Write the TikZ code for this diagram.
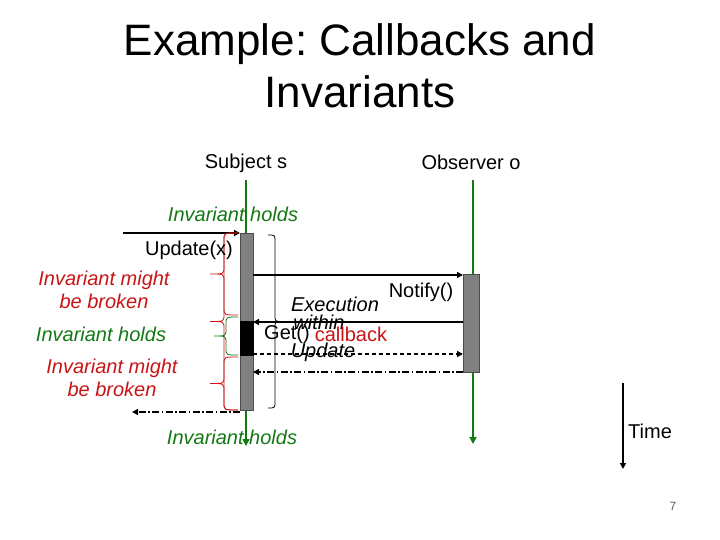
\documentclass[tikz,border=0pt]{standalone}
\usepackage{fontspec}
\setmainfont{Liberation Sans}
\usetikzlibrary{arrows.meta}
\definecolor{lgreen}{RGB}{20,120,20}
\definecolor{lred}{RGB}{200,20,20}
\definecolor{bargray}{RGB}{128,128,128}
\definecolor{pgnum}{RGB}{90,90,90}
\newcommand\BraceL[5]{% style, ytop, ybot, xstem, half-width
  \draw[#1] ({#4+#5},#2) .. controls (#4,#2) .. (#4,#2+7)
    -- (#4,{(#2+#3)/2-7}) .. controls (#4,{(#2+#3)/2}) .. ({#4-#5},{(#2+#3)/2})
    .. controls (#4,{(#2+#3)/2}) .. (#4,{(#2+#3)/2+7})
    -- (#4,#3-7) .. controls (#4,#3) .. ({#4+#5},#3);}
\frenchspacing
\begin{document}
\begin{tikzpicture}[x=1pt,y=-1pt,
  lbl/.style={font=\fontsize{20}{23}\selectfont, inner sep=0pt, align=center},
  itl/.style={lbl, font=\fontsize{20}{23}\selectfont\itshape},
  lifeline/.style={draw=lgreen, line width=1.6pt, -{Triangle[length=7pt,width=7pt]}},
  actbar/.style={draw=black!70, fill=bargray, line width=0.6pt},
  msg/.style={draw=black, line width=1.4pt, -{Triangle[length=6pt,width=6pt]}},
  dmsg/.style={msg, dash pattern=on 4pt off 3pt},
  ddmsg/.style={msg, dash pattern=on 7pt off 2.5pt on 1.5pt off 2.5pt},
  redbr/.style={draw=lred, line width=0.8pt},
  greenbr/.style={draw=lgreen, line width=0.8pt},
  blackbr/.style={draw=black, line width=0.8pt}]
\useasboundingbox (0,0) rectangle (720,540);

% title
\node[inner sep=0pt, align=center, font=\fontsize{44}{52}\selectfont] (title) at (360,66) {Example: Callbacks and\\Invariants};

% lifeline heads
\node[lbl] (subj) at (246,163) {Subject s};
\node[lbl] (obs) at (471,162) {Observer o};

% texts lying under the message lines
\node[itl] (exec) at (335,304) {Execution};
\node[itl] (within) at (319,322) {within};
\node[itl] (upd) at (323,352) {Update};

% coordinates for lifelines
\coordinate (sTop) at (246,180);
\coordinate (sEnd) at (246,446);
\coordinate (oTop) at (473,180);
\coordinate (oEnd) at (473,444);
\draw[lifeline] (sTop) -- (sEnd);
\draw[lifeline] (oTop) -- (oEnd);

% activation bars
\path[actbar] (240,233) rectangle (253,410);
\path[draw=black, fill=black] (240,321) rectangle (253,355);
\path[actbar] (463,274) rectangle (479,372);
\coordinate (sbarTL) at (240,233);
\coordinate (sbarBL) at (240,412);

% messages
\coordinate (updStart) at (123,233);
\draw[msg] (updStart) -- (sbarTL);
\coordinate (nfA) at (253,275); \coordinate (nfB) at (463,275);
\draw[msg] (nfA) -- (nfB);
\coordinate (gtA) at (463,322); \coordinate (gtB) at (253,322);
\draw[msg] (gtA) -- (gtB);
\coordinate (upA) at (253,354); \coordinate (upB) at (463,354);
\draw[dmsg] (upA) -- (upB);
\coordinate (rtA) at (463,372); \coordinate (rtB) at (253,372);
\draw[ddmsg] (rtA) -- (rtB);
\coordinate (retEnd) at (132,412);
\draw[ddmsg] (sbarBL) -- (retEnd);

% braces
\BraceL{redbr}{233}{410}{224}{14}
\BraceL{redbr}{233}{315}{224}{14}
\BraceL{greenbr}{317}{355}{226}{12}
\BraceL{redbr}{357}{410}{224}{14}
\BraceL{blackbr}{235}{408}{275}{-7}

% labels
\node[itl, text=lgreen] (ih1) at (233,214) {Invariant holds};
\node[lbl] (updx) at (189,250) {Update(x)};
\node[itl, text=lred] (imb1) at (104,290) {Invariant might\\be broken};
\node[itl, text=lgreen] (ih2) at (101,334) {Invariant holds};
\node[itl, text=lred] (imb2) at (112,378) {Invariant might\\be broken};
\node[itl, text=lgreen] (ih3) at (232,437) {Invariant holds};
\node[lbl] (notify) at (421,292) {Notify()};
\node[lbl] (get) at (287,334) {Get()};
\node[lbl, text=lred] (cb) at (351,334) {callback};

% time arrow
\coordinate (tTop) at (623,383);
\coordinate (tEnd) at (623,469);
\draw[msg] (tTop) -- (tEnd);
\node[lbl, anchor=west] (time) at (628,431) {Time};

\node[inner sep=0pt, text=pgnum, font=\fontsize{12}{14}\selectfont] (pg) at (673,506) {7};
\end{tikzpicture}
\end{document}
